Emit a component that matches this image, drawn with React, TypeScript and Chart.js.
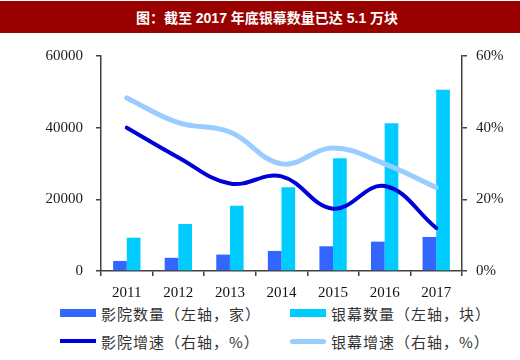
import React, { useEffect, useRef } from "react";
import { Chart, registerables } from "chart.js";

Chart.register(...registerables);

const title = "图：截至 2017 年底银幕数量已达 5.1 万块";
const years = ["2011", "2012", "2013", "2014", "2015", "2016", "2017"];
const cinemaCount = [2803, 3680, 4583, 5598, 6900, 8200, 9500];
const screenCount = [9286, 13118, 18195, 23400, 31500, 41200, 50600];
const cinemaGrowth = [40, 31.7, 24.4, 26.4, 17.4, 23.7, 12];
const screenGrowth = [48.3, 41.4, 38.8, 29.9, 34.3, 29.9, 23.3];
const leftTicks = [0, 20000, 40000, 60000];
const rightTicks = [0, 20, 40, 60];

const labels = {
  cinemaCount: "影院数量（左轴，家）",
  screenCount: "银幕数量（左轴，块）",
  cinemaGrowth: "影院增速（右轴，%）",
  screenGrowth: "银幕增速（右轴，%）",
};

const colors = {
  cinemaCount: "#3366FF",
  screenCount: "#00CCFF",
  cinemaGrowth: "#0000D8",
  screenGrowth: "#99CCFF",
};

const axisColor = "#404040";
const serif = "'Liberation Serif', 'Times New Roman', serif";
const cjk = "'Noto Sans CJK SC', sans-serif";

export default function App() {
  const ref = useRef<HTMLCanvasElement | null>(null);

  useEffect(() => {
    if (!ref.current) return;
    const chart = new Chart(ref.current, {
      data: {
        labels: years,
        datasets: [
          {
            type: "bar",
            label: labels.cinemaCount,
            data: cinemaCount,
            backgroundColor: colors.cinemaCount,
            yAxisID: "y",
            order: 2,
            categoryPercentage: 0.53,
            barPercentage: 1.0,
          },
          {
            type: "bar",
            label: labels.screenCount,
            data: screenCount,
            backgroundColor: colors.screenCount,
            yAxisID: "y",
            order: 2,
            categoryPercentage: 0.53,
            barPercentage: 1.0,
          },
          {
            type: "line",
            label: labels.cinemaGrowth,
            data: cinemaGrowth,
            borderColor: colors.cinemaGrowth,
            backgroundColor: colors.cinemaGrowth,
            borderWidth: 4,
            pointRadius: 0,
            tension: 0.4,
            yAxisID: "y1",
            order: 0,
            borderCapStyle: "round",
          },
          {
            type: "line",
            label: labels.screenGrowth,
            data: screenGrowth,
            borderColor: colors.screenGrowth,
            backgroundColor: colors.screenGrowth,
            borderWidth: 5,
            pointRadius: 0,
            tension: 0.4,
            yAxisID: "y1",
            order: 1,
            borderCapStyle: "round",
          },
        ],
      },
      options: {
        responsive: false,
        animation: false,
        layout: { padding: { top: 20, left: 0, right: 0, bottom: 0 } },
        plugins: {
          legend: { display: false },
          tooltip: { enabled: false },
          title: { display: false },
        },
        scales: {
          x: {
            offset: true,
            grid: {
              offset: true,
              drawOnChartArea: false,
              drawTicks: true,
              tickLength: 5,
              tickColor: axisColor,
              lineWidth: 1.5,
            },
            border: { display: true, color: axisColor, width: 1.5 },
            ticks: {
              color: "#111",
              font: { family: serif, size: 15 },
              padding: 8,
              maxRotation: 0,
            },
            afterFit: (s: any) => {
              s.height = 29;
            },
          },
          y: {
            position: "left",
            min: leftTicks[0],
            max: leftTicks[leftTicks.length - 1],
            afterBuildTicks: (s: any) => {
              s.ticks = leftTicks.map((v) => ({ value: v }));
            },
            grid: {
              drawOnChartArea: false,
              drawTicks: true,
              tickLength: 5,
              tickColor: axisColor,
              lineWidth: 1.5,
            },
            border: { display: true, color: axisColor, width: 1.5 },
            ticks: {
              color: "#222",
              font: { family: serif, size: 15 },
              padding: 13,
              callback: (v: any) => String(v),
            },
            afterFit: (s: any) => {
              s.width = 101;
            },
          },
          y1: {
            position: "right",
            min: rightTicks[0],
            max: rightTicks[rightTicks.length - 1],
            afterBuildTicks: (s: any) => {
              s.ticks = rightTicks.map((v) => ({ value: v }));
            },
            grid: {
              drawOnChartArea: false,
              drawTicks: true,
              tickLength: 5,
              tickColor: axisColor,
              lineWidth: 1.5,
            },
            border: { display: true, color: axisColor, width: 1.5 },
            ticks: {
              color: "#222",
              font: { family: serif, size: 15 },
              padding: 9,
              callback: (v: any) => v + "%",
            },
            afterFit: (s: any) => {
              s.width = 58;
            },
          },
        },
      },
    } as any);
    return () => chart.destroy();
  }, []);

  const legendItem = (
    left: number,
    top: number,
    color: string,
    text: string,
    kind: "rect" | "line" | "roundline"
  ) => (
    <div
      key={text}
      style={{
        position: "absolute",
        left,
        top,
        height: 20,
        display: "flex",
        alignItems: "center",
        whiteSpace: "nowrap",
      }}
    >
      <div
        style={{
          width: 36,
          height: kind === "rect" ? 8 : kind === "line" ? 4 : 5,
          background: color,
          borderRadius: kind === "roundline" ? 3 : 0,
          marginRight: 5,
        }}
      />
      <span style={{ font: `15px ${cjk}`, color: "#333", letterSpacing: 1 }}>{text}</span>
    </div>
  );

  return (
    <div
      style={{
        position: "absolute",
        left: 0,
        top: 0,
        width: 520,
        height: 360,
        background: "#fff",
        overflow: "hidden",
      }}
    >
      <div
        style={{
          position: "absolute",
          left: 0,
          top: 1,
          width: 520,
          height: 32,
          background: "#990000",
          color: "#fff",
          display: "flex",
          alignItems: "center",
          justifyContent: "center",
          paddingLeft: 14,
          boxSizing: "border-box",
          font: `bold 14px 'Liberation Sans', ${cjk}`,
        }}
      >
        {title}
      </div>
      <div style={{ position: "absolute", left: 0, top: 34, width: 520, height: 266 }}>
        <canvas ref={ref} width={520} height={266} />
      </div>
      {legendItem(60, 303, colors.cinemaCount, labels.cinemaCount, "rect")}
      {legendItem(290, 303, colors.screenCount, labels.screenCount, "rect")}
      {legendItem(60, 331, colors.cinemaGrowth, labels.cinemaGrowth, "line")}
      {legendItem(290, 331, colors.screenGrowth, labels.screenGrowth, "roundline")}
    </div>
  );
}
